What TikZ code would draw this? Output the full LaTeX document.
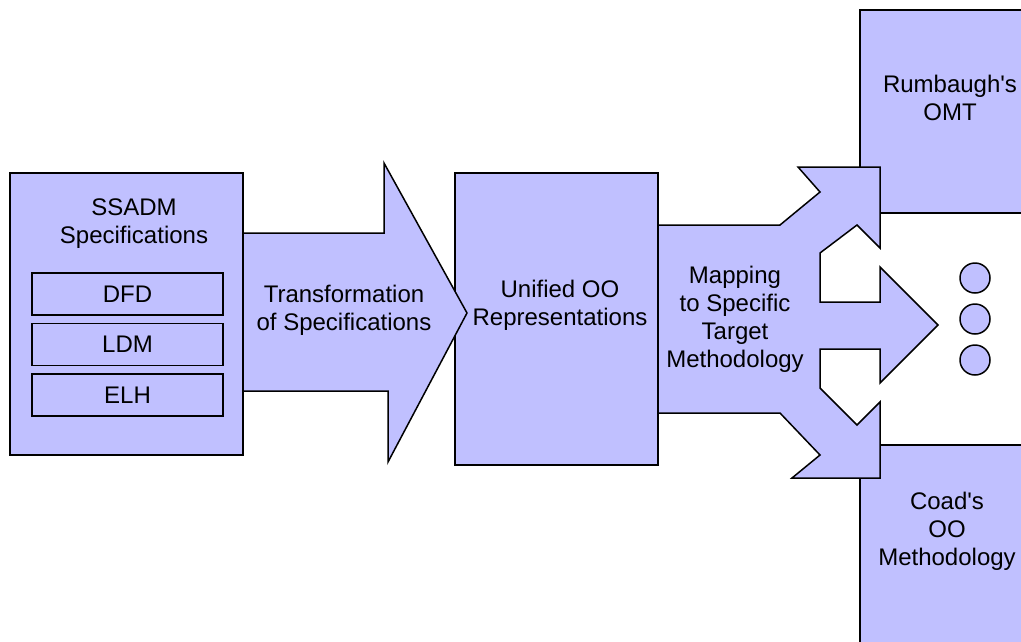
\documentclass[tikz,border=0pt]{standalone}
\usepackage{fontspec}
\setmainfont{Liberation Sans}
\usetikzlibrary{positioning}
\definecolor{colour_fill}{HTML}{C0C0FF}

\begin{document}
\begin{tikzpicture}
   [
      x=1pt, y=-1pt,
      box/.style={draw, line width=1.5pt, fill=colour_fill, outer sep=0pt},
      part box/.style={box, minimum width=191pt, minimum height=42pt, inner sep=0pt, font=\fontsize{24}{28}\selectfont},
      block arrow/.style={draw, line width=1.5pt, fill=colour_fill, line join=miter},
      label node/.style={text=black, align=center, inner sep=0pt, font=\fontsize{24}{28}\selectfont},
      dot/.style={circle, draw, line width=1.5pt, fill=colour_fill, minimum size=30pt, inner sep=0pt, outer sep=0pt},
   ]

   \useasboundingbox (0,0) rectangle (1021,641);
   \clip (0,0) rectangle (1021,641);

   % =======================================================
   % Source: SSADM specifications
   % =======================================================

   \node[box, minimum width=233pt, minimum height=282pt] (ssadm) at (126.5,314) {};
   \node[label node] (ssadm_title) at (134,224) {SSADM\\Specifications};

   % Parts
   \node[part box] (dfd) at (127.5,294) {DFD};
   \node[part box, below=8.5pt of dfd] (ldm) {LDM};
   \node[part box, below=8.5pt of ldm] (elh) {ELH};

   % =======================================================
   % Middle: unified representation
   % =======================================================

   \node[box, minimum width=203pt, minimum height=292pt] (unified) at (556.5,319) {};
   \node[label node] (unified_title) at (560,305) {Unified OO\\Representations};

   % =======================================================
   % Targets
   % =======================================================

   \node[box, minimum width=180pt, minimum height=203pt] (rumbaugh) at (950,111.5) {};
   \node[label node] (rumbaugh_title) at (950,98) {Rumbaugh\textquotesingle s\\OMT};

   \node[box, minimum width=180pt, minimum height=215pt] (coad) at (950,552.5) {};
   \node[label node] (coad_title) at (947,531) {Coad\textquotesingle s\\OO\\Methodology};

   % =======================================================
   % Arrows
   % =======================================================

   \draw[block arrow] (243,233) -- (384,233) -- (384,163) -- (467,313)
      -- (388,462) -- (388,391) -- (243,391) -- cycle;
   \node[label node] (transform_label) at (344,310) {Transformation\\of Specifications};

   \draw[block arrow] (658,225) -- (780,225) -- (820,192) -- (798,167) -- (880,167)
      -- (880,248) -- (857,225) -- (820,253) -- (820,302) -- (880,302) -- (880,267)
      -- (938,325) -- (880,383) -- (880,349) -- (820,349) -- (820,388) -- (857,425)
      -- (880,402) -- (880,478) -- (792,478) -- (820,455) -- (780,413) -- (658,413) -- cycle;
   \node[label node] (mapping_label) at (735,319) {Mapping\\to Specific\\Target\\Methodology};

   % Further targets
   \node[dot] (dot_a) at (975,278) {};
   \node[dot, below=11pt of dot_a] (dot_b) {};
   \node[dot, below=11pt of dot_b] (dot_c) {};

\end{tikzpicture}
\end{document}
